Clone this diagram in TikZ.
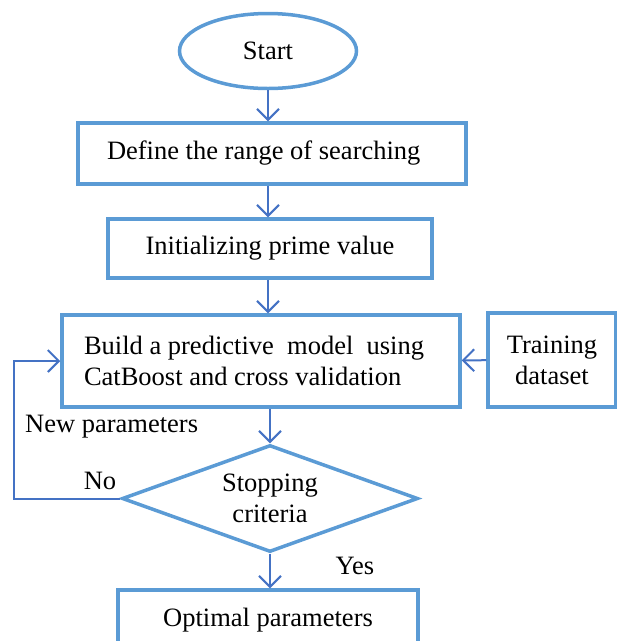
\documentclass[tikz,border=0pt]{standalone}
\usepackage{fontspec}
\setmainfont{Liberation Serif}
\usetikzlibrary{arrows.meta,shapes.geometric}

\definecolor{boxblue}{RGB}{91,155,213}
\definecolor{arrowblue}{RGB}{68,114,196}

\tikzset{
  stepbox/.style={draw=boxblue, line width=3.5pt, rectangle, inner sep=0pt},
  startnode/.style={draw=boxblue, line width=3.5pt, ellipse, inner sep=0pt, minimum width=177pt, minimum height=75pt},
  checknode/.style={draw=boxblue, line width=3.5pt, diamond, shape aspect=2.77, inner sep=0pt, minimum width=296pt, minimum height=107pt},
  flow/.style={draw=arrowblue, line width=2pt, -{Straight Barb[length=11pt,width=22pt,line width=2pt]}},
  lbl/.style={inner sep=0pt}
}

\begin{document}
\begin{tikzpicture}[x=1pt, y=-1pt, font=\fontsize{26.5}{31}\selectfont]
			%%%%% START %%%%%
			\useasboundingbox (0, 0) rectangle (617, 641);
			
			\node[startnode] (start) at (268, 51) {Start};
			\node[stepbox, minimum width=388pt, minimum height=61pt, text width=330pt, align=flush left] (range) at (272, 153.5) {Define the range of searching};
			\node[stepbox, minimum width=324pt, minimum height=59pt] (init) at (270, 248.5) {Initializing prime value};
			\node[stepbox, minimum width=398pt, minimum height=92pt, text width=354pt, align=flush left] (build) at (261, 361) {Build a predictive\ \ model\ \ using\\CatBoost and cross validation};
			\node[stepbox, minimum width=128pt, minimum height=94pt, align=center] (train) at (552, 360) {Training\\dataset};
			\node[checknode, align=center] (stop) at (270, 498.5) {Stopping\\criteria};
			\node[stepbox, minimum width=300pt, minimum height=60pt] (best) at (268, 620) {Optimal parameters};
			
			\coordinate (loopdown) at (14, 498.5);
			\coordinate (loopup) at (14, 361);
			
			\draw[flow] (start) -- (range.north -| start.south);
			\draw[flow] (range.south -| start.south) -- (init.north -| start.south);
			\draw[flow] (init.south -| start.south) -- (build.north -| start.south);
			\draw[flow] (train) -- (build);
			\draw[flow] (build.south -| stop.north) -- (stop);
			\draw[flow] (stop) -- (best.north -| stop.south);
			\draw[flow] (stop.west) -- (loopdown) -- (loopup) -- (build.west);
			
			\node[lbl, anchor=west] (newpar) at (25, 427) {New parameters};
			\node[lbl] (no) at (100, 481) {No};
			\node[lbl] (yes) at (355, 566) {Yes};
			%%%%% END %%%%%
\end{tikzpicture}
\end{document}
